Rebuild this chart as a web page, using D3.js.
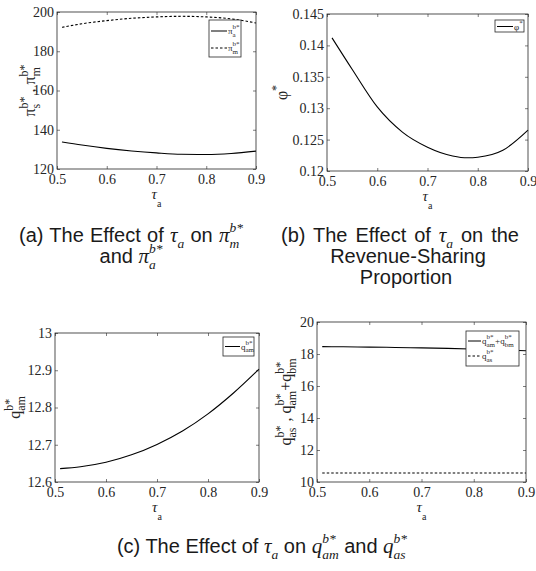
<!DOCTYPE html>
<html>
<head>
<meta charset="utf-8">
<script src="https://cdn.jsdelivr.net/npm/d3@7"></script>
<style>
  body { margin: 0; background: #fff; }
  svg { display: block; }
  .serif { font-family: 'Liberation Serif', 'DejaVu Serif', serif; }
  .sans { font-family: 'Liberation Sans', Arial, sans-serif; }
</style>
</head>
<body>
<script>
// ── data ──
const X_TICKS = [0.5, 0.6, 0.7, 0.8, 0.9];

const TAU   = [0.51, 0.55, 0.6, 0.65, 0.7, 0.75, 0.8, 0.85, 0.9];
const PI_A  = [133.8, 132.2, 130.5, 129.2, 128.2, 127.5, 127.4, 127.9, 129.1];
const PI_M  = [192.2, 194.0, 195.6, 196.8, 197.5, 197.8, 197.5, 196.5, 194.4];
const A_TICKS = [120, 140, 160, 180, 200];

const TAU_B = [0.51, 0.55, 0.6, 0.65, 0.7, 0.75, 0.78, 0.8, 0.85, 0.9];
const PHI   = [0.1412, 0.1362, 0.1302, 0.1262, 0.1238, 0.1224, 0.1221, 0.1222, 0.1233, 0.1265];
const B_TICKS = [0.12, 0.125, 0.13, 0.135, 0.14, 0.145];

const Q_AM  = [12.636, 12.641, 12.653, 12.673, 12.701, 12.737, 12.783, 12.839, 12.903];
const C_TICKS = [12.6, 12.7, 12.8, 12.9, 13];

const Q_SUM = [18.46, 18.45, 18.43, 18.41, 18.38, 18.35, 18.31, 18.26, 18.2];
const Q_AS  = [10.56, 10.56, 10.56, 10.56, 10.56, 10.56, 10.56, 10.56, 10.56];
const D_TICKS = [10, 12, 14, 16, 18, 20];

const W = 536, H = 571;
const INK = '#262626';

const svg = d3.select('body').append('svg').attr('width', W).attr('height', H);
svg.append('rect').attr('width', W).attr('height', H).attr('fill', '#fff');

// lay out a run of text with stacked sub/superscripts
// (o.width: stretch the spaces so the run fills that width, like a justified line)
function rich(parent, parts, o) {
  const g = parent.append('g');
  const inner = g.append('g');
  const fs = o.size, sm = o.small || fs * 0.7;

  const layout = ws => {
    inner.selectAll('*').remove();
    let x = 0;
    const put = (txt, xx, yy, size, cls, ital) => inner.append('text')
      .attr('class', cls)
      .attr('x', xx).attr('y', yy)
      .attr('font-size', size)
      .attr('font-style', ital ? 'italic' : 'normal')
      .attr('fill', o.fill || '#000')
      .style('white-space', 'pre')
      .style('word-spacing', ws + 'px')
      .text(txt);
    let spaces = 0;
    parts.forEach(p => {
      if (p.t != null) {
        const t = put(p.t, x, 0, p.s || fs, p.f || o.family, p.i);
        x += t.node().getComputedTextLength();
        spaces += (p.t.match(/ /g) || []).length;
      } else {
        let w = 0;
        const fam = p.f || o.subFamily || o.family;
        if (p.sub) {
          const t = put(p.sub, x, fs * (o.subK || 0.3), sm, fam, p.i);
          w = Math.max(w, t.node().getComputedTextLength());
        }
        if (p.sup) {
          const t = put(p.sup, x, -fs * (o.supK || 0.45), sm, fam, p.i);
          w = Math.max(w, t.node().getComputedTextLength());
        }
        x += w;
      }
    });
    return { x, spaces };
  };

  let r = layout(0);
  if (o.width && r.spaces && o.width > r.x) r = layout((o.width - r.x) / r.spaces);
  if (o.anchor === 'middle') inner.attr('transform', `translate(${-r.x / 2},0)`);
  return g;
}

function panel(L, yDomain, yTicks, fmt, series, ylab, leg) {
  const x = d3.scaleLinear().domain([0.5, 0.9]).range([L.x0, L.x1]);
  const y = d3.scaleLinear().domain(yDomain).range([L.y1, L.y0]);
  const g = svg.append('g');

  const style = ax => {
    ax.attr('font-family', null).attr('font-size', null);
    ax.select('.domain').remove();
    ax.selectAll('line').attr('stroke', INK).attr('stroke-width', 0.6);
    ax.selectAll('text').attr('class', 'serif').attr('font-size', 14).attr('fill', INK);
  };
  g.append('g').attr('transform', `translate(0,${L.y1})`)
    .call(d3.axisBottom(x).tickValues(X_TICKS).tickSize(-3).tickPadding(5).tickFormat(d3.format('.1f')))
    .call(style);
  g.append('g').attr('transform', `translate(0,${L.y0})`)
    .call(d3.axisTop(x).tickValues(X_TICKS).tickSize(-3).tickFormat(''))
    .call(style);
  g.append('g').attr('transform', `translate(${L.x0},0)`)
    .call(d3.axisLeft(y).tickValues(yTicks).tickSize(-3).tickPadding(3).tickFormat(fmt))
    .call(style);
  g.append('g').attr('transform', `translate(${L.x1},0)`)
    .call(d3.axisRight(y).tickValues(yTicks).tickSize(-3).tickFormat(''))
    .call(style);

  const line = d3.line().x(d => x(d[0])).y(d => y(d[1])).curve(d3.curveMonotoneX);
  series.forEach(s => {
    g.append('path')
      .datum(d3.zip(s.x, s.y))
      .attr('d', line)
      .attr('fill', 'none')
      .attr('stroke', '#000')
      .attr('stroke-width', 1.1)
      .attr('stroke-dasharray', s.dash ? '2.5,2' : null);
  });

  // legend
  g.append('rect')
    .attr('x', leg.box[0]).attr('y', leg.box[1])
    .attr('width', leg.box[2]).attr('height', leg.box[3])
    .attr('fill', '#fff').attr('stroke', INK).attr('stroke-width', 0.8);
  leg.items.forEach((it, i) => {
    const ly = leg.box[1] + leg.first + i * leg.step;
    const lx = leg.box[0] + 2;
    g.append('line')
      .attr('x1', lx).attr('x2', lx + leg.len)
      .attr('y1', ly).attr('y2', ly)
      .attr('stroke', '#000').attr('stroke-width', 1)
      .attr('stroke-dasharray', series[i].dash ? '2.5,2' : null);
    rich(g, it, { size: 9, small: 7, family: 'serif', fill: INK, supK: 0.55, subK: 0.3 })
      .attr('transform', `translate(${lx + leg.len + 1},${ly + 3})`);
  });

  // frame
  g.append('rect')
    .attr('x', L.x0).attr('y', L.y0)
    .attr('width', L.x1 - L.x0).attr('height', L.y1 - L.y0)
    .attr('fill', 'none').attr('stroke', INK).attr('stroke-width', 0.8);

  // x label
  rich(g, [{ t: 'τ', i: true }, { sub: 'a' }],
       { size: 15, small: 10, family: 'serif', fill: INK, anchor: 'middle', subK: 0.55 })
    .attr('transform', `translate(${(L.x0 + L.x1) / 2},${L.y1 + 30})`);

  // y label
  rich(g, ylab, { size: 16, small: 12, family: 'serif', fill: INK, anchor: 'middle', supK: 0.45, subK: 0.3 })
    .attr('transform', `translate(${L.ylx},${(L.y0 + L.y1) / 2}) rotate(-90)`);
}

const num = d => String(+d.toFixed(3));

panel({ x0: 57, x1: 256, y0: 12, y1: 169, ylx: 35 }, [120, 200], A_TICKS, num,
  [{ x: TAU, y: PI_A }, { x: TAU, y: PI_M, dash: true }],
  [{ t: 'π' }, { sup: 'b*', sub: 's' }, { t: ' , ' }, { t: 'π' }, { sup: 'b*', sub: 'm' }],
  { box: [209, 20, 32, 37], first: 11, step: 17, len: 16,
    items: [[{ t: 'π' }, { sup: 'b*', sub: 'a' }], [{ t: 'π' }, { sup: 'b*', sub: 'm' }]] });

panel({ x0: 327, x1: 528, y0: 14, y1: 171, ylx: 287 }, [0.12, 0.145], B_TICKS, num,
  [{ x: TAU_B, y: PHI }],
  [{ t: 'φ' }, { sup: '*' }],
  { box: [495, 20, 29, 12], first: 6.5, step: 0, len: 16,
    items: [[{ t: 'φ' }, { sup: '*' }]] });

panel({ x0: 55, x1: 259, y0: 333, y1: 482, ylx: 20 }, [12.6, 13], C_TICKS, num,
  [{ x: TAU, y: Q_AM }],
  [{ t: 'q' }, { sup: 'b*', sub: 'am' }],
  { box: [223, 337, 31, 19], first: 9.5, step: 0, len: 15,
    items: [[{ t: 'q' }, { sup: 'b*', sub: 'am' }]] });

panel({ x0: 317, x1: 526, y0: 322, y1: 482, ylx: 291 }, [10, 20], D_TICKS, num,
  [{ x: TAU, y: Q_SUM }, { x: TAU, y: Q_AS, dash: true }],
  [{ t: 'q' }, { sup: 'b*', sub: 'as' }, { t: ' , ' }, { t: 'q' }, { sup: 'b*', sub: 'am' },
   { t: '+q' }, { sup: 'b*', sub: 'bm' }],
  { box: [466, 331, 53, 35], first: 10, step: 15, len: 13,
    items: [[{ t: 'q' }, { sup: 'b*', sub: 'am' }, { t: '+q' }, { sup: 'b*', sub: 'bm' }],
            [{ t: 'q' }, { sup: 'b*', sub: 'as' }]] });

// captions (first lines are justified in the original, so slightly stretched)
const capOpt = { size: 20, small: 13.5, family: 'sans', subFamily: 'serif', fill: '#1a1a1a',
                 anchor: 'middle', supK: 0.5, subK: 0.3 };
const M = { f: 'serif', i: true, s: 21 };
rich(svg, [{ t: '(a) The Effect of ' }, { t: 'τ', ...M }, { sub: 'a', i: true }, { t: ' on ' },
           { t: 'π', ...M }, { sup: 'b*', sub: 'm', i: true }], { ...capOpt, width: 224 })
  .attr('transform', 'translate(131,242)');
rich(svg, [{ t: 'and ' }, { t: 'π', ...M }, { sup: 'b*', sub: 'a', i: true }], capOpt)
  .attr('transform', 'translate(131,263)');
rich(svg, [{ t: '(b) The Effect of ' }, { t: 'τ', ...M }, { sub: 'a', i: true }, { t: ' on the' }],
     { ...capOpt, width: 238 })
  .attr('transform', 'translate(400,242)');
rich(svg, [{ t: 'Revenue-Sharing' }], capOpt).attr('transform', 'translate(408,263)');
rich(svg, [{ t: 'Proportion' }], capOpt).attr('transform', 'translate(406,284)');
rich(svg, [{ t: '(c) The Effect of ' }, { t: 'τ', ...M }, { sub: 'a', i: true }, { t: ' on ' },
           { t: 'q', ...M }, { sup: 'b*', sub: 'am', i: true }, { t: ' and ' },
           { t: 'q', ...M }, { sup: 'b*', sub: 'as', i: true }], capOpt)
  .attr('transform', 'translate(262,553)');
</script>
</body>
</html>
